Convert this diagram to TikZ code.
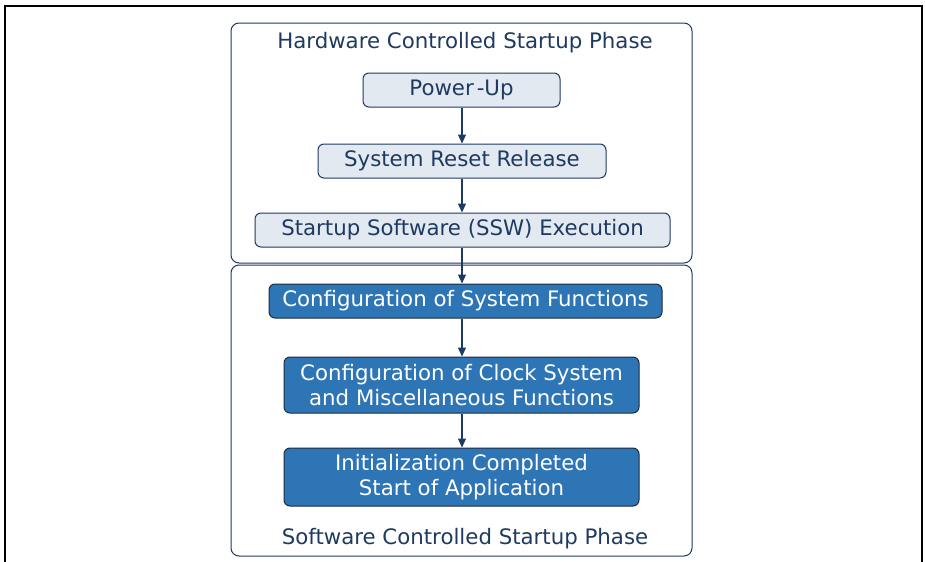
\documentclass[tikz,border=0pt]{standalone}
\usepackage{fontspec}
\setmainfont{DejaVu Sans}
\usetikzlibrary{arrows.meta}
\definecolor{navy}{HTML}{1F3A60}
\definecolor{lightfill}{HTML}{E3E9F1}
\definecolor{bluefill}{HTML}{2E75B6}
\definecolor{darkedge}{HTML}{1E2B3C}
\begin{document}
\begin{tikzpicture}[x=1pt,y=-1pt,
  hwbox/.style={draw=navy,fill=lightfill,rounded corners=6pt,line width=1pt,
    text=navy,font=\fontsize{21.3}{25}\selectfont,inner sep=0pt,align=center},
  swbox/.style={draw=darkedge,fill=bluefill,rounded corners=6pt,line width=1pt,
    text=white,font=\fontsize{21.3}{25}\selectfont,inner sep=0pt,align=center},
  group/.style={draw=navy,rounded corners=8pt,line width=1pt},
  title/.style={text=navy,font=\fontsize{21.3}{25}\selectfont,inner sep=0pt},
  flow/.style={draw=navy,line width=1.1pt,-{Triangle[length=9pt,width=8pt]}}]
\useasboundingbox (0,0) rectangle (926,562);
% outer frame (open at bottom)
\draw[line width=2pt,black] (5,562) -- (5,6) -- (922,6) -- (922,562);
% group boxes
\draw[group] (231,23) rectangle (692,263);
\draw[group] (231,265) rectangle (692,556);
\node[title] (hwt) at (465,43) {Hardware Controlled Startup Phase};
\node[title] (swt) at (465,539) {Software Controlled Startup Phase};
% nodes
\node[hwbox,minimum width=197pt,minimum height=34pt] (pu) at (461.5,90) {Power\kern3pt-Up};
\node[hwbox,minimum width=288pt,minimum height=34pt] (rr) at (462,161) {System Reset Release};
\node[hwbox,minimum width=415pt,minimum height=34pt] (ssw) at (462.5,230) {Startup Software (SSW) Execution};
\node[swbox,minimum width=393pt,minimum height=34pt] (csf) at (465.5,301) {Configuration of System Functions};
\node[swbox,minimum width=355pt,minimum height=56pt] (ccs) at (461.5,385) {Configuration of Clock System\\and Miscellaneous Functions};
\node[swbox,minimum width=355pt,minimum height=58pt] (ini) at (461.5,477) {Initialization Completed\\Start of Application};
% connectors
\draw[flow] (pu.south -| 462,0) -- (rr.north -| 462,0);
\draw[flow] (rr.south -| 462,0) -- (ssw.north -| 462,0);
\draw[flow] (ssw.south -| 462,0) -- (csf.north -| 462,0);
\draw[flow] (csf.south -| 462,0) -- (ccs.north -| 462,0);
\draw[flow] (ccs.south -| 462,0) -- (ini.north -| 462,0);
\end{tikzpicture}
\end{document}
